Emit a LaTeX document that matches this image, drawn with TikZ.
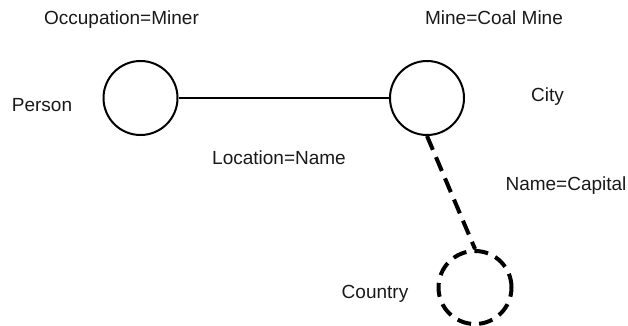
\documentclass[tikz,border=0pt]{standalone}
\usepackage{fontspec}
\setmainfont{Liberation Sans}
\begin{document}
\begin{tikzpicture}[x=1pt,y=-1pt,
  lbl/.style={anchor=base,inner sep=0pt,text=black!90,font=\fontsize{19}{22}\selectfont},
  entity/.style={circle,draw,line width=2pt,minimum size=74pt,inner sep=0pt},
  weakentity/.style={circle,draw,line width=4pt,dash pattern=on 14pt off 8pt,minimum size=73pt,inner sep=0pt},
  link/.style={line width=2pt},
  weaklink/.style={line width=4pt,dash pattern=on 15pt off 8pt}]
\useasboundingbox (0,0) rectangle (628,326);
% entities
\node[entity] (person) at (140.5,98) {};
\node[entity] (city) at (427,98) {};
\node[weakentity] (country) at (475,287.5) {};
% connectors
\draw[link] (person) -- (city);
\draw[weaklink] (city.south) -- (country.north);
% labels
\node[lbl] (occ) at (121.5,25) {Occupation=Miner};
\node[lbl] (pname) at (42,111) {Person};
\node[lbl] (mine) at (494,25) {Mine=Coal Mine};
\node[lbl] (cname) at (547.5,102) {City};
\node[lbl] (loc) at (279,164) {Location=Name};
\node[lbl] (cap) at (566,190) {Name=Capital};
\node[lbl] (kname) at (375,298) {Country};
\end{tikzpicture}
\end{document}
